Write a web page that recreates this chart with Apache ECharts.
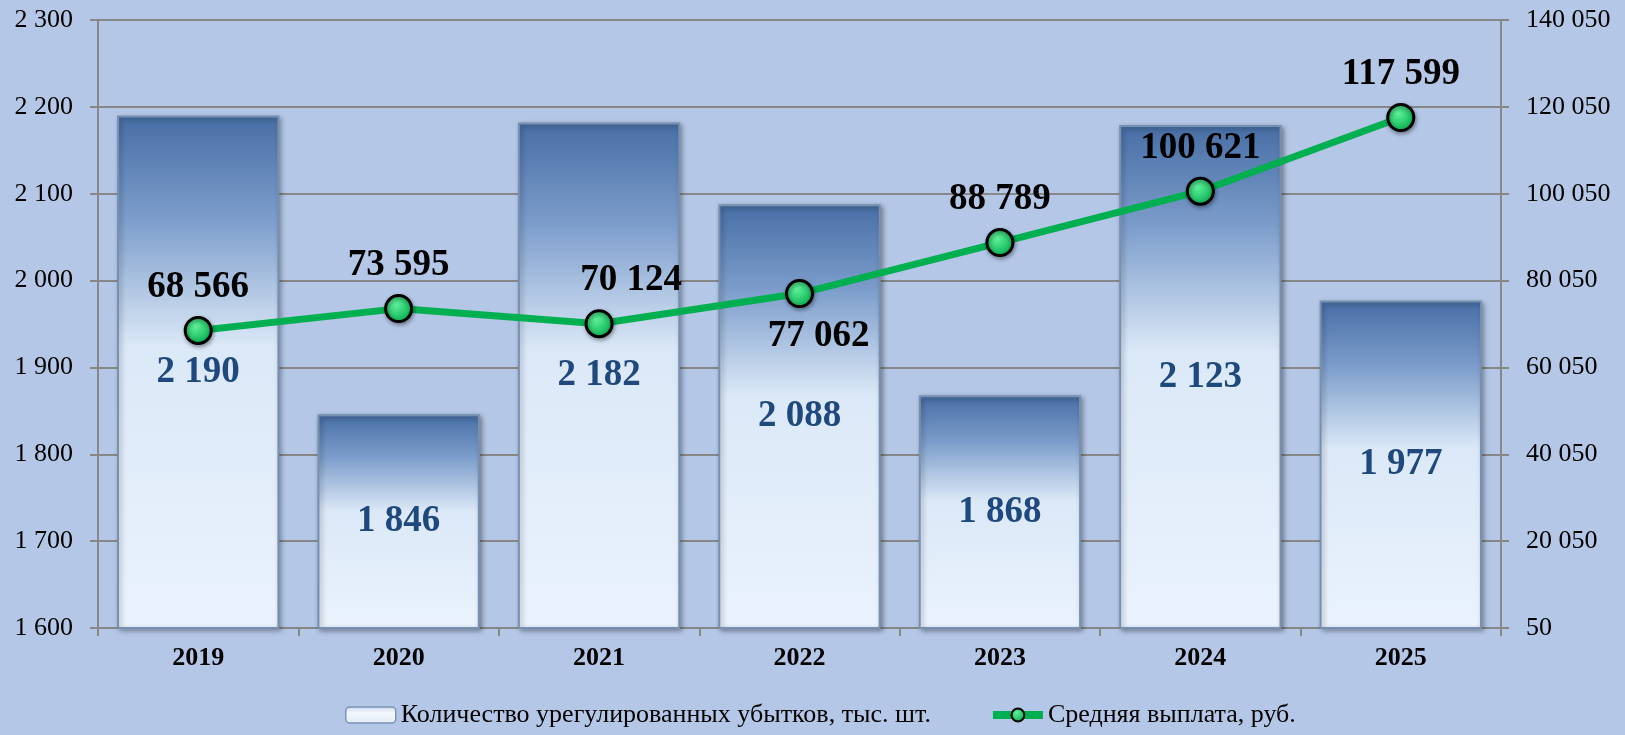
<!DOCTYPE html>
<html>
<head>
<meta charset="utf-8">
<script src="https://cdn.jsdelivr.net/npm/echarts@6/dist/echarts.min.js"></script>
<style>
  html, body { margin: 0; padding: 0; background: #b4c7e7; }
  #chart { width: 1625px; height: 735px; }
</style>
</head>
<body>
<div id="chart"></div>
<script>
// данные
const years = ['2019', '2020', '2021', '2022', '2023', '2024', '2025'];
// высота столбцов как на рисунке (столбец 2024 нарисован выше подписи)
const settledClaims = [2190, 1846, 2182, 2088, 1868, 2179, 1977];
const barLabels = ['2 190', '1 846', '2 182', '2 088', '1 868', '2 123', '1 977'];
const avgPayout = [68566, 73595, 70124, 77062, 88789, 100621, 117599];
const rightTicks = [50, 20050, 40050, 60050, 80050, 100050, 120050, 140050];

const barName = 'Количество урегулированных убытков, тыс. шт.';
const lineName = 'Средняя выплата, руб.';

// подписи линии: смещения для отдельных точек
const lineLabelPos = [
  { position: 'top' }, { position: 'top' },
  { position: 'top', offset: [32, 0] },
  { position: 'bottom', offset: [19, 0] },
  { position: 'top' }, { position: 'top' }, { position: 'top' }
];

const fmt = v => String(v).replace(/\B(?=(\d{3})+(?!\d))/g, ' ');
const font = 'Liberation Serif';
const gridColor = '#878787';

const chart = echarts.init(document.getElementById('chart'));

const option = {
  backgroundColor: '#b4c7e7',
  textStyle: { fontFamily: font },
  grid: { left: 98, right: 124, top: 20, bottom: 107 },
  legend: {
    bottom: 2,
    left: 340,
    itemWidth: 50,
    itemHeight: 16,
    itemGap: 58,
    textStyle: { fontFamily: font, fontSize: 26, color: '#000' },
    data: [
      {
        name: barName,
        itemStyle: {
          color: new echarts.graphic.LinearGradient(0, 0, 0, 1, [
            { offset: 0, color: '#c9d9ee' },
            { offset: 0.4, color: '#f4f8fd' },
            { offset: 1, color: '#dfe9f6' }
          ]),
          borderColor: '#7a93b5',
          borderWidth: 1.5
        }
      },
      { name: lineName, lineStyle: { width: 8, color: '#00b050' } }
    ]
  },
  xAxis: {
    type: 'category',
    data: years,
    axisLine: { lineStyle: { color: gridColor, width: 2 } },
    axisTick: { show: true, length: 8, lineStyle: { color: gridColor, width: 2 } },
    axisLabel: { color: '#000', fontSize: 26, fontWeight: 'bold', fontFamily: font, margin: 17 }
  },
  yAxis: [
    {
      type: 'value',
      min: 1600,
      max: 2300,
      interval: 100,
      axisLine: { show: true, lineStyle: { color: gridColor, width: 2 } },
      axisTick: { show: true, length: 8, lineStyle: { color: gridColor, width: 2 } },
      splitLine: { lineStyle: { color: gridColor, width: 2 } },
      axisLabel: { color: '#000', fontSize: 26, fontFamily: font, margin: 25, formatter: fmt }
    },
    {
      type: 'value',
      min: 50,
      max: 140050,
      axisLine: { show: true, lineStyle: { color: gridColor, width: 2 } },
      axisTick: { show: true, length: 8, customValues: rightTicks, lineStyle: { color: gridColor, width: 2 } },
      splitLine: { show: false },
      axisLabel: { color: '#000', fontSize: 26, fontFamily: font, margin: 25, customValues: rightTicks, formatter: fmt }
    }
  ],
  series: [
    {
      name: barName,
      type: 'bar',
      barWidth: '81%',
      data: settledClaims,
      itemStyle: {
        color: new echarts.graphic.LinearGradient(0, 0, 0, 1, [
          { offset: 0, color: '#476ea5' },
          { offset: 0.2, color: '#7c9dcb' },
          { offset: 0.45, color: '#dbe8f7' },
          { offset: 1, color: '#eaf3fd' }
        ]),
        borderColor: '#7890b0',
        borderWidth: 2,
        shadowColor: 'rgba(0,0,0,0.35)',
        shadowBlur: 5,
        shadowOffsetX: 2,
        shadowOffsetY: 2
      },
      label: {
        show: true,
        position: 'inside',
        color: '#1f497d',
        fontSize: 37,
        fontWeight: 'bold',
        fontFamily: font,
        formatter: p => barLabels[p.dataIndex]
      },
      z: 2
    },
    {
      name: lineName,
      type: 'line',
      yAxisIndex: 1,
      data: avgPayout.map((v, i) => ({ value: v, label: lineLabelPos[i] })),
      symbol: 'circle',
      symbolSize: 26,
      lineStyle: { color: '#00b050', width: 7 },
      itemStyle: {
        color: new echarts.graphic.RadialGradient(0.4, 0.35, 0.7, [
          { offset: 0, color: '#5ff29a' },
          { offset: 1, color: '#00a84c' }
        ]),
        borderColor: '#000',
        borderWidth: 3,
        shadowColor: 'rgba(0,0,0,0.35)',
        shadowBlur: 4,
        shadowOffsetX: 1,
        shadowOffsetY: 2
      },
      label: {
        show: true,
        color: '#000',
        fontSize: 37,
        fontWeight: 'bold',
        fontFamily: font,
        distance: 10,
        formatter: p => fmt(p.value)
      },
      z: 5
    }
  ]
};

chart.setOption(option);
</script>
</body>
</html>
